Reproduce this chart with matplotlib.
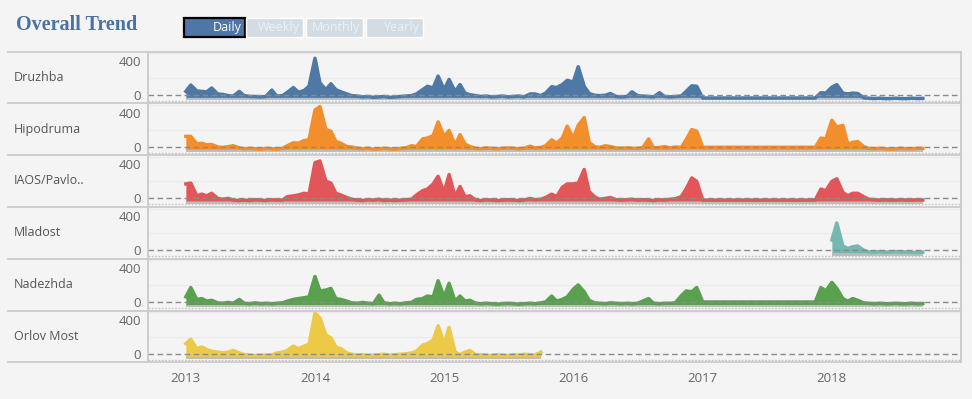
import numpy as np
import pandas as pd
import matplotlib
matplotlib.use("Agg")
import matplotlib.pyplot as plt
from matplotlib.patches import Rectangle
from matplotlib.lines import Line2D

plt.rcParams['font.family'] = ['Open Sans', 'DejaVu Sans']

N = None
# ---------------- data (semi-monthly readings, starting 2013-01-01) ----------------
stations = ["Druzhba", "Hipodruma", "IAOS/Pavlo..", "Mladost", "Nadezhda", "Orlov Most"]
colors = ["#4e79a7", "#f28e2b", "#e15759", "#76b7b2", "#59a14f", "#edc948"]
start_dates = ["2013-01-01", "2013-01-01", "2013-01-01", "2018-01-01", "2013-01-01", "2013-01-01"]

druzhba = (
    [40, 115, 45, 40, 35, 80, 10, 5, -10, -15, 40, -10, -20, -20, -25, -20, 55, -15, -10, 30, 85, 30, 50, 100]
    + [430, 140, 60, 130, 60, 35, 10, -10, -15, -25, -20, -30, -25, -20, -30, -25, -20, -15, -10, 10, 60, 100, 80, 220]
    + [60, 180, 40, 120, 20, 0, -10, -20, -15, -25, -20, -15, -25, -20, -15, -25, 10, 10, -10, 20, 95, 85, 120, 170]
    + [150, 330, 100, 15, -5, -10, -5, 15, -20, -25, -20, 35, -10, -15, -20, -25, 25, -20, -25, -20, -15, 40, 105, 100]
    + [-38] + [N] * 20 + [-38, 25, 20]
    + [90, 120, 20, 10, 20, 15, -35, -40, -45, -40, -45, -45, -40, -45, -45, -40, -45, -42]
)
hipodruma = (
    [120, 120, 30, 40, 20, 25, -5, -10, 0, 10, -15, -25, -20, -25, -30, -20, -25, -30, -20, 10, 45, 40, 70, 80]
    + [430, 470, 200, 180, 60, 40, 0, -5, -20, -25, -20, -30, -25, -20, -25, -30, -20, -15, 10, 0, 90, 100, 130, 290]
    + [120, 190, 20, 140, 30, 0, -20, -25, -15, -20, -25, -20, -15, -20, -25, -20, 5, -15, -10, 10, 80, 40, 100, 240]
    + [100, 250, 340, 50, 0, -10, 10, 0, -15, -20, -15, -20, -20, -15, 90, -15, -10, 0, -15, -5, -10, 80, 200, 180]
    + [-8] + [N] * 20 + [-8, 100, 90]
    + [310, 230, 250, 30, 50, 60, 0, -20, -25, -20, -25, -30, -25, -20, -25, -25, -20, -22]
)
iaos = (
    [170, 180, 30, 50, 30, 60, 0, -10, 0, -20, -25, -20, -25, -15, -20, -25, -15, -20, -20, 20, 30, 40, 60, 50]
    + [420, 440, 200, 180, 60, 40, 10, -10, -20, -25, -15, -20, -10, -25, -20, -25, -20, -15, -10, 40, 90, 110, 170, 260]
    + [70, 280, 20, 140, 20, 30, -20, -25, -15, -20, -25, -20, -15, -20, -25, -20, 0, -15, -10, 10, 50, 20, 130, 170]
    + [170, 180, 340, 80, 20, -10, 0, 10, -15, -20, -15, -10, -20, -15, -20, -25, -15, -20, -10, -5, 20, 110, 240, 200]
    + [-20] + [N] * 20 + [-20, 110, 90]
    + [200, 230, 70, 30, 60, 60, 20, -10, -15, -20, -15, -20, -20, -15, -20, -20, -15, -18]
)
mladost = [120, 320, 50, 20, 40, 50, 0, -20, -25, -15, -25, -20, -15, -25, -20, -25, -25, -22]
nadezhda = (
    [60, 170, 30, 40, 10, 20, -10, -15, -5, -15, 30, -15, -20, -10, -20, -15, -20, -15, -10, 10, 30, 40, 50, 60]
    + [300, 130, 140, 160, 40, 30, 10, -10, -15, -5, -15, -20, 80, -10, -20, -15, -20, -10, -5, 30, 40, 70, 60, 250]
    + [60, 220, 10, 70, 10, 20, -15, -20, -15, -20, -25, -20, -15, -20, -25, -20, -15, -20, -10, 0, 70, 10, 30, 60]
    + [150, 200, 120, 20, -10, -15, -20, -10, -15, -20, -15, -20, -15, N, 40, -15, -20, -15, -15, -10, 70, 130, 120, 170]
    + [0] + [N] * 20 + [0, 170, 130]
    + [230, 160, 40, 10, 40, 20, -10, -15, -20, -15, -20, -20, -15, -20, -20, -15, -20, -18]
)
orlov = (
    [120, 170, 60, 80, 50, 30, 20, 10, 20, 40, 10, -10, -15, -20, -15, N, -15, 10, 20, 40, 90, 60, 90, 110]
    + [480, 420, 220, 190, 80, 60, 10, -5, -15, -10, -20, -15, -10, -5, -15, -10, -5, 0, 10, 30, 100, 120, 160, 330]
    + [120, 310, 20, -10, 20, 40, -15, -10, -15, -20, -10, -15, -20, -10, -15, -5, -10, -15, 20]
)
series = [druzhba, hipodruma, iaos, mladost, nadezhda, orlov]
years = [2013, 2014, 2015, 2016, 2017, 2018]
ytick_vals = [0, 400]

# ---------------- layout ----------------
W, H = 972, 399
fig = plt.figure(figsize=(W / 100, H / 100), dpi=100)
BG = "#f4f4f4"
fig.patch.set_facecolor(BG)

def fx(x):
    return x / W

def fy(y):
    return 1 - y / H

LEFT, RIGHT, TOP, ROWH = 148, 961, 51.5, 51.8
GRID = "#cbcbcb"
xmin, xmax = pd.Timestamp("2012-09-16"), pd.Timestamp("2019-01-01")

axes = []
for k, (name, col, sd, vals) in enumerate(zip(stations, colors, start_dates, series)):
    top = TOP + k * ROWH
    ax = fig.add_axes([fx(LEFT), fy(top + ROWH), fx(RIGHT) - fx(LEFT), ROWH / H])
    ax.set_facecolor(BG)
    for s in ax.spines.values():
        s.set_visible(False)
    ax.set_xlim(xmin, xmax)
    ax.set_ylim(-100, 509)

    d = pd.date_range(sd, periods=len(vals), freq="SMS")
    v = pd.Series([np.nan if a is None else a for a in vals], index=d, dtype=float).dropna()

    for g in (200, 490):
        ax.axhline(g, color="#ebebeb", lw=0.8, zorder=0)
    ax.fill_between(v.index, -63, -30, color="#bdbdbd", lw=0, zorder=1)
    ax.fill_between(v.index, -30, v.values, color=col, lw=0, zorder=2)
    ax.plot(v.index, v.values, color=col, lw=2.5, solid_joinstyle="round", zorder=3)
    ax.axhline(0, color="#8a8a8a", lw=1.0, ls=(0, (4, 2.5)), zorder=4)
    ax.axhline(-70, color="#c4c4c4", lw=1.0, ls=(0, (1.2, 1.2)), zorder=4)

    ax.set_yticks(ytick_vals)
    ax.set_yticklabels([str(t) for t in ytick_vals])
    ax.tick_params(axis="y", length=0, pad=5, labelsize=9.5, labelcolor="#666666")
    ax.tick_params(axis="x", length=0)
    ax.set_xticks([])
    fig.text(fx(14), fy(top + ROWH / 2), name, ha="left", va="center",
             fontsize=9, color="#555555")
    axes.append(ax)

axes[-1].set_xticks([pd.Timestamp(f"{y}-01-01") for y in years])
axes[-1].set_xticklabels([str(y) for y in years])
axes[-1].tick_params(axis="x", length=0, pad=7, labelsize=9.5, labelcolor="#666666")

# frame lines
for k in range(7):
    y = TOP + k * ROWH
    fig.add_artist(Line2D([fx(8), fx(RIGHT)], [fy(y), fy(y)], color=GRID, lw=1.3))
for x in (147.5, RIGHT):
    fig.add_artist(Line2D([fx(x), fx(x)], [fy(TOP), fy(TOP + 6 * ROWH)], color=GRID, lw=1.3))

# title
fig.text(fx(16), fy(25), "Overall Trend", ha="left", va="center", fontsize=14.5,
         fontweight="bold", family="Liberation Serif", color="#4a72a4")

# buttons
buttons = [("Daily", 184, 245, True), ("Weekly", 246, 303, False),
           ("Monthly", 306, 363, False), ("Yearly", 366, 423, False)]
for label, x0, x1, active in buttons:
    if active:
        r = Rectangle((fx(x0), fy(37)), fx(x1) - fx(x0), fy(18) - fy(37),
                      transform=fig.transFigure, facecolor="#4e76a6", edgecolor="black", lw=1.6)
        tc = "white"
    else:
        r = Rectangle((fx(x0), fy(37)), fx(x1) - fx(x0), fy(18) - fy(37),
                      transform=fig.transFigure, facecolor="#d3dbe3", edgecolor="white", lw=1.0)
        tc = "#eef1f5"
    fig.add_artist(r)
    fig.text(fx(x1 - 3), fy(27.5), label, ha="right", va="center", fontsize=9, color=tc)

fig.savefig("out.png", dpi=100, facecolor=BG)
